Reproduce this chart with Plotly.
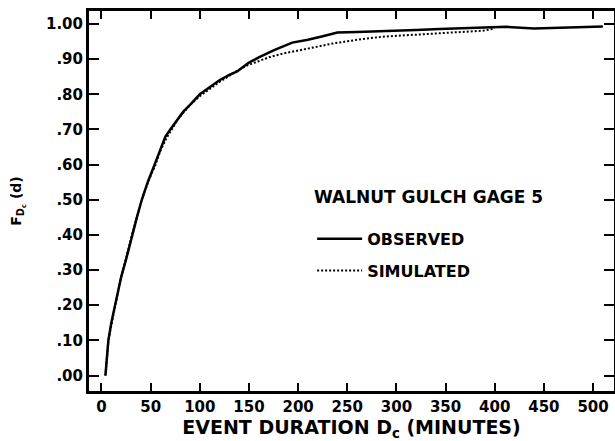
import plotly.graph_objects as go

obs_x = [4, 7, 10, 14, 20, 25, 31, 36, 41, 47, 54, 60, 65, 70, 78, 83, 90, 100, 110, 120, 130, 138, 145, 150, 160, 175, 194, 210, 225, 240, 260, 290, 320, 344, 380, 412, 440, 470, 510]
obs_y = [0.00, 0.10, 0.15, 0.20, 0.28, 0.33, 0.40, 0.45, 0.50, 0.55, 0.60, 0.645, 0.68, 0.70, 0.73, 0.75, 0.77, 0.80, 0.82, 0.84, 0.855, 0.865, 0.88, 0.89, 0.905, 0.925, 0.947, 0.955, 0.965, 0.976, 0.977, 0.981, 0.983, 0.986, 0.989, 0.992, 0.987, 0.99, 0.993]

sim_x = [4, 7, 14, 20, 31, 41, 48, 55, 60, 66, 78, 90, 100, 120, 140, 148, 170, 188, 210, 236, 260, 286, 310, 337, 360, 388, 400]
sim_y = [0.00, 0.10, 0.20, 0.28, 0.40, 0.50, 0.555, 0.60, 0.64, 0.675, 0.73, 0.77, 0.795, 0.835, 0.87, 0.882, 0.905, 0.918, 0.93, 0.945, 0.955, 0.964, 0.968, 0.973, 0.977, 0.981, 0.987]

x_ticks = [0, 50, 100, 150, 200, 250, 300, 350, 400, 450, 500]
y_ticks = [0.0, 0.1, 0.2, 0.3, 0.4, 0.5, 0.6, 0.7, 0.8, 0.9, 1.0]
y_tick_text = [".00", ".10", ".20", ".30", ".40", ".50", ".60", ".70", ".80", ".90", "1.00"]

FONT = "DejaVu Sans"

fig = go.Figure()
fig.add_trace(go.Scatter(x=obs_x, y=obs_y, mode="lines", name="<b>OBSERVED</b>",
                         line=dict(color="black", width=2.5), legendgroup="a"))
fig.add_trace(go.Scatter(x=sim_x, y=sim_y, mode="lines", name="<b>SIMULATED</b>",
                         line=dict(color="black", width=2, dash="2px,2px"), legendgroup="b"))

axis_common = dict(showline=True, linecolor="black", linewidth=3, mirror="ticks",
                   ticks="inside", tickcolor="black", tickwidth=2, showgrid=False,
                   zeroline=False, automargin=False,
                   tickfont=dict(family=FONT, size=15, color="black"))

fig.update_xaxes(range=[-12.7, 521.3], tickvals=x_ticks, ticklen=8,
                 ticktext=[f"<b>{v}</b>" for v in x_ticks],
                 title=dict(text="<b>EVENT DURATION D<sub>c</sub> (MINUTES)</b>",
                            font=dict(family=FONT, size=19, color="black"), standoff=3),
                 **axis_common)
fig.update_yaxes(range=[-0.044, 1.037], tickvals=y_ticks, ticklen=10,
                 ticktext=[f"<b>{t}</b>" for t in y_tick_text],
                 title=dict(text="<b>F<sub>D<sub>c</sub></sub> (d)</b>",
                            font=dict(family=FONT, size=14, color="black"), standoff=22),
                 **axis_common)

fig.add_annotation(text="<b>WALNUT GULCH GAGE 5</b>", xref="paper", yref="paper",
                   x=0.425, y=0.51, xanchor="left", yanchor="middle", showarrow=False,
                   font=dict(family=FONT, size=17, color="black"))

fig.update_layout(
    width=615, height=441,
    margin=dict(l=89, r=1, t=11, b=50),
    paper_bgcolor="white", plot_bgcolor="white",
    showlegend=True,
    legend=dict(x=0.425, y=0.445, xanchor="left", yanchor="top", bgcolor="rgba(0,0,0,0)",
                font=dict(family=FONT, size=16, color="black"), tracegroupgap=8,
                traceorder="grouped", itemwidth=45),
)

fig.write_html("out.html", post_script="document.body.style.margin='0';",
               config={"displayModeBar": False})
